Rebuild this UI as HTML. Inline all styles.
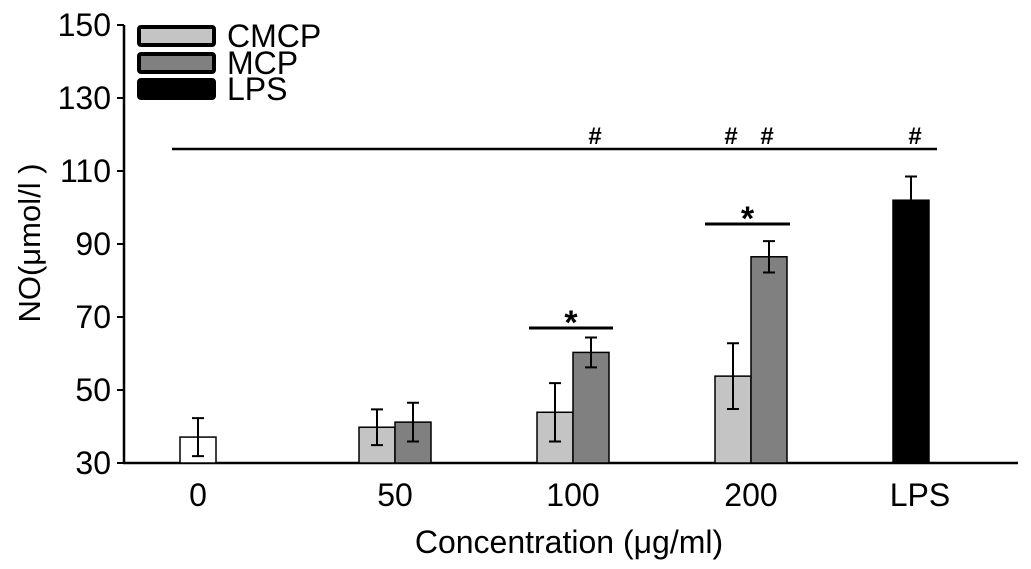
<!DOCTYPE html>
<html><head><meta charset="utf-8"><style>
html,body{margin:0;padding:0;background:#fff;}
svg{display:block;font-family:"Liberation Sans",sans-serif;}
</style></head><body>
<svg id="chart" width="1031" height="569"></svg>
<script>
const categories = ["0","50","100","200","LPS"];
const controlVals = [37.1, null, null, null, null];
const controlErr = [5.2, null, null, null, null];
const cmcpVals = [null, 39.8, 43.9, 53.8, null];
const cmcpErr = [null, 4.9, 8.0, 9.0, null];
const mcpVals = [null, 41.2, 60.3, 86.5, null];
const mcpErr = [null, 5.3, 4.1, 4.3, null];
const lpsVals = [null, null, null, null, 102.0];
const lpsErr = [null, null, null, null, 6.5];
const yTicks = [30,50,70,90,110,130,150];

const NS="http://www.w3.org/2000/svg";
const svg=document.getElementById('chart');
const Y0=463, Y1=25, VMIN=30, VMAX=150;
function y(v){return Y0-(v-VMIN)/(VMAX-VMIN)*(Y0-Y1);}
const centers=[198,395,573,751,911];
function xc(i){return centers[i];}
const BW=36;
function mk(tag,attrs,parent){const e=document.createElementNS(NS,tag);for(const k in attrs)e.setAttribute(k,attrs[k]);(parent||svg).appendChild(e);return e;}

let ax=mk('line',{x1:124,y1:Y1,x2:124,y2:Y0+1,stroke:'#000','stroke-width':2.5});

let bx=mk('line',{x1:123,y1:Y0,x2:1018,y2:Y0,stroke:'#000','stroke-width':2.5});

yTicks.forEach(t=>{
  const l=mk('line',{x1:117,y1:y(t),x2:124,y2:y(t),stroke:'#000','stroke-width':2});
  
  const tx=mk('text',{x:111,y:y(t)+11,'text-anchor':'end','font-size':32});
  tx.textContent=t;
  
});
categories.forEach((c,i)=>{
  const tx=mk('text',{x:xc(i)+(i==4?9:0),y:506,'text-anchor':'middle','font-size':32});
  tx.textContent=c;
  
});
let yt=mk('text',{x:0,y:0,'text-anchor':'middle','font-size':31,transform:'translate(40,243) rotate(-90)'});
yt.textContent='NO(μmol/l )';

let xt=mk('text',{x:569,y:553,'text-anchor':'middle','font-size':32});
xt.textContent='Concentration (μg/ml)';


function drawBar(v,e,cx,fill,name){
  const r=mk('rect',{x:cx-BW/2,y:y(v),width:BW,height:Y0-y(v),fill:fill,stroke:'#000','stroke-width':1.5});
  
  const g=mk('path',{d:`M${cx},${y(v+e)}V${y(v-e)}M${cx-6},${y(v+e)}H${cx+6}M${cx-6},${y(v-e)}H${cx+6}`,stroke:'#000','stroke-width':2,fill:'none'});
  
}
categories.forEach((c,i)=>{
  if(controlVals[i]!=null)drawBar(controlVals[i],controlErr[i],xc(i),'#fff','bar-control-'+c);
  if(cmcpVals[i]!=null)drawBar(cmcpVals[i],cmcpErr[i],xc(i)-BW/2,'#c4c4c4','bar-cmcp-'+c);
  if(mcpVals[i]!=null)drawBar(mcpVals[i],mcpErr[i],xc(i)+BW/2,'#808080','bar-mcp-'+c);
  if(lpsVals[i]!=null)drawBar(lpsVals[i],lpsErr[i],xc(i),'#000','bar-lps');
});

let sl=mk('line',{x1:172,y1:149,x2:937,y2:149,stroke:'#000','stroke-width':2.5});

[595,731,767,915].forEach(x=>{
  const t=mk('text',{x:x,y:144,'text-anchor':'middle','font-size':24,'font-weight':'bold'});t.textContent='#';
  
});
[[529,613,328],[705,790,224]].forEach(s=>{
  const l=mk('line',{x1:s[0],y1:s[2],x2:s[1],y2:s[2],stroke:'#000','stroke-width':3});
  
  const t=mk('text',{x:(s[0]+s[1])/2,y:s[2]+6,'text-anchor':'middle','font-size':34,'font-weight':'bold'});t.textContent='*';
  
});

[['CMCP','#c4c4c4',25],['MCP','#808080',52],['LPS','#000',78]].forEach(d=>{
  const r=mk('rect',{x:139,y:d[2]+2,width:75,height:18,rx:2,fill:d[1],stroke:'#000','stroke-width':4});
  
  const t=mk('text',{x:227,y:d[2]+22,'font-size':32});t.textContent=d[0];
  
});
</script>
</body></html>
